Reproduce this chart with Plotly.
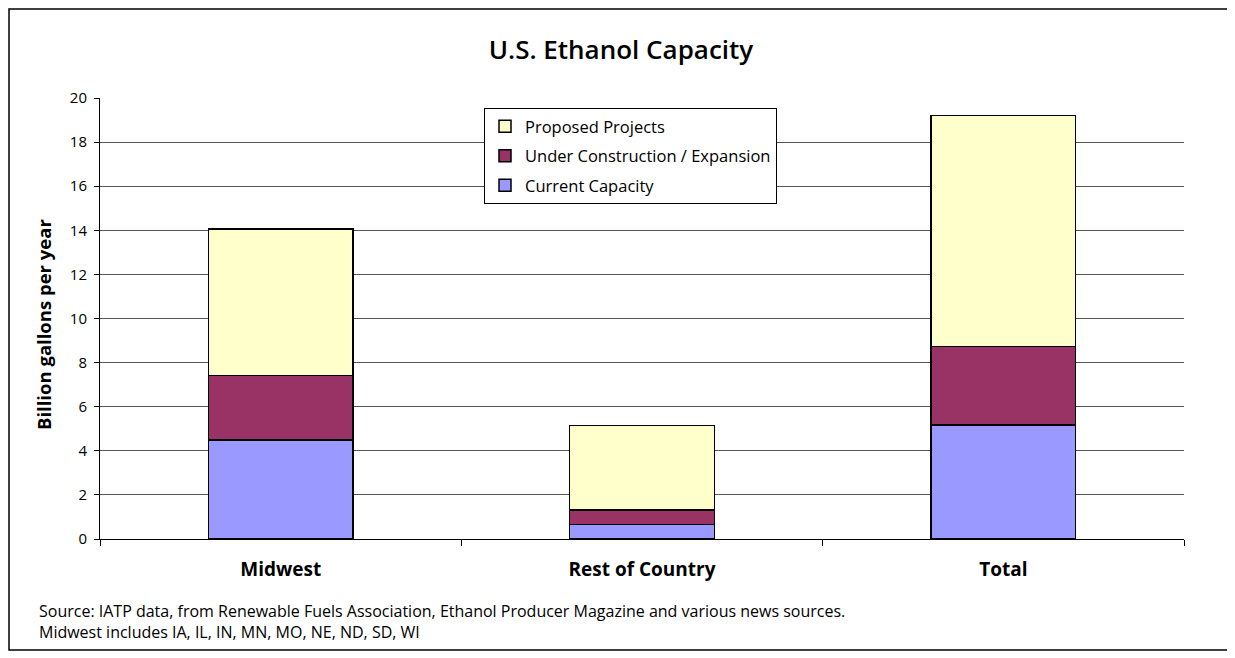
import plotly.graph_objects as go

regions = ["Midwest", "Rest of Country", "Total"]
current_capacity = [4.50, 0.65, 5.16]
under_construction = [2.91, 0.66, 3.56]
proposed_projects = [6.64, 3.84, 10.48]

FONT = "'Open Sans', sans-serif"

# page body has an 8px margin, so the figure is sized to fit the window
W, H = 1227, 650
L, R, T, B = 92, 51, 90, 119
PW, PH = W - L - R, H - T - B

fig = go.Figure()

series = [
    ("Current Capacity", current_capacity, "#9999ff"),
    ("Under Construction / Expansion", under_construction, "#993366"),
    ("Proposed Projects", proposed_projects, "#ffffcc"),
]
for i, (name, vals, color) in enumerate(series):
    fig.add_trace(go.Bar(
        x=regions,
        y=vals,
        name=name,
        legendgroup="g%d" % i,
        legendrank=10 - i,
        marker=dict(color=color, line=dict(color="black", width=1.5)),
        width=0.4,
    ))

fig.update_layout(
    barmode="stack",
    width=W,
    height=H,
    margin=dict(l=L, r=R, t=T, b=B),
    paper_bgcolor="white",
    plot_bgcolor="white",
    font=dict(family=FONT, color="black", size=15),
    title=dict(
        text="U.S. Ethanol Capacity",
        x=(621 - 8) / W, xanchor="center",
        y=1 - 42 / H, yanchor="middle",
        yref="container",
        font=dict(size=26, family=FONT, weight=600),
    ),
    legend=dict(
        x=(484 - 8 - L) / PW, y=(PH + T - 100) / PH, xanchor="left", yanchor="top",
        traceorder="grouped",
        tracegroupgap=5,
        bordercolor="black", borderwidth=1,
        bgcolor="white",
        font=dict(size=16.5, family=FONT),
    ),
    showlegend=True,
)

fig.update_yaxes(
    range=[0, 20],
    dtick=2,
    ticks="outside",
    ticklen=5,
    tickcolor="black",
    ticklabelstandoff=4,
    showline=True,
    linecolor="black",
    linewidth=1,
    showgrid=True,
    gridcolor="#555555",
    gridwidth=1,
    zeroline=False,
    tickfont=dict(size=15),
)

fig.update_xaxes(
    showline=True,
    linecolor="black",
    linewidth=1,
    ticks="outside",
    tickson="boundaries",
    ticklen=6,
    tickcolor="black",
    ticklabelstandoff=13,
    tickfont=dict(size=19),
    tickvals=regions,
    ticktext=["<b>%s</b>" % r for r in regions],
)

# y axis title, placed as text so it sits where the original does
fig.add_annotation(
    text="<b>Billion gallons per year</b>",
    xref="paper", yref="paper",
    x=(35 - L) / PW, y=(PH + T - 317) / PH,
    xanchor="center", yanchor="middle",
    textangle=-90, showarrow=False,
    font=dict(size=18.5),
)

# outer chart frame
fig.add_shape(
    type="rect", xref="paper", yref="paper",
    x0=(1 - L) / PW, x1=(1220 - L) / PW,
    y0=(PH + T - 642) / PH, y1=(PH + T - 1) / PH,
    line=dict(color="black", width=1.5),
    layer="below",
)

fig.add_annotation(
    text="Source: IATP data, from Renewable Fuels Association, Ethanol Producer Magazine and various news sources."
         "<br>Midwest includes IA, IL, IN, MN, MO, NE, ND, SD, WI",
    xref="paper", yref="paper",
    x=(29 - L) / PW, y=(PH + T - 613) / PH,
    xanchor="left", yanchor="middle", align="left",
    showarrow=False, font=dict(size=16),
)

fig.write_html("out.html")
